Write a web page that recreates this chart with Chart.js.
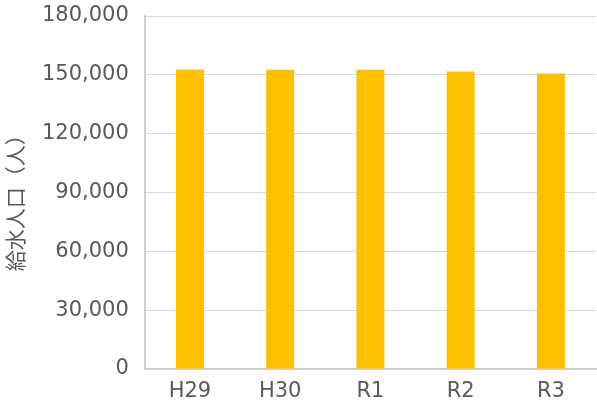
<!DOCTYPE html>
<html><head><meta charset="utf-8">
<script src="https://cdn.jsdelivr.net/npm/chart.js@4"></script>
<style>html,body{margin:0;padding:0;background:#fff}#w{width:597px;height:406px}</style>
</head><body><div id="w"><canvas id="c"></canvas></div>
<script>
const categories = ["H29", "H30", "R1", "R2", "R3"];
const population = [152700, 152600, 152600, 151700, 150700];
const yTicks = [0, 30000, 60000, 90000, 120000, 150000, 180000];
const yTitle = "給水人口（人）　";

const font = {family: "'DejaVu Sans', sans-serif", size: 21, lineHeight: 1};
new Chart(document.getElementById('c'), {
  type: 'bar',
  data: {labels: categories, datasets: [{data: population, backgroundColor: '#FFC000', categoryPercentage: 1, barPercentage: 0.31}]},
  options: {
    responsive: true, maintainAspectRatio: false, animation: false,
    layout: {padding: {top: 0, right: 1, left: 5, bottom: -8}},
    plugins: {legend: {display: false}, tooltip: {enabled: false}},
    scales: {
      x: {grid: {display: false, drawTicks: false}, border: {color: '#d0d0d0', width: 2}, ticks: {color: '#595959', font: font, padding: 12}},
      y: {min: 0, max: 180000, afterBuildTicks: s => { s.ticks = yTicks.map(v => ({value: v})); },
        afterFit: s => { s.paddingTop = 16; s.paddingBottom = 0; },
        grid: {color: '#d9d9d9', drawTicks: false}, border: {color: '#d0d0d0', width: 2},
        ticks: {color: '#595959', font: font, padding: 16, callback: v => v.toLocaleString('en-US')},
        title: {display: true, text: yTitle, color: '#595959', font: {family: "'Noto Sans CJK JP', sans-serif", size: 21, lineHeight: 1}, padding: 0}}
    }
  }
});
</script></body></html>
